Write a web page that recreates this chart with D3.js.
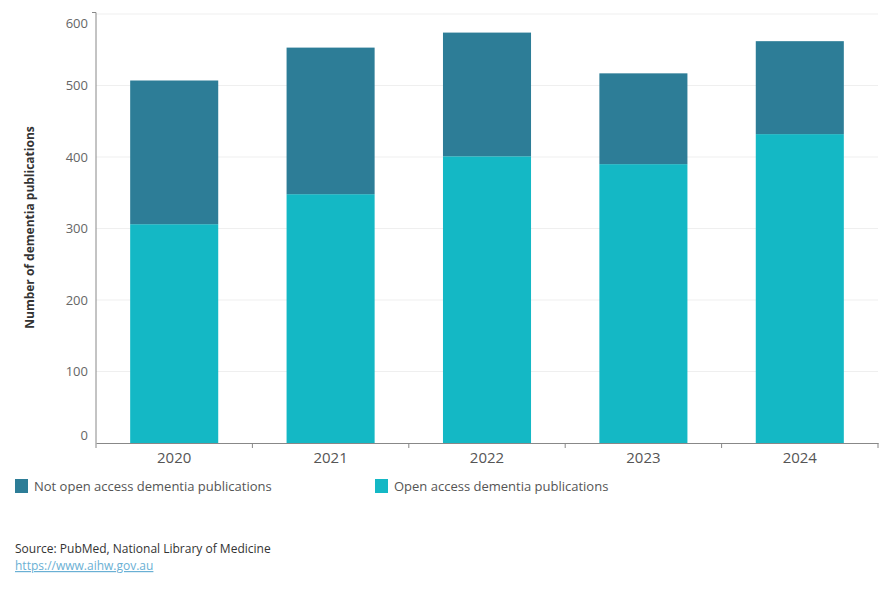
<!DOCTYPE html>
<html>
<head>
<meta charset="utf-8">
<script src="https://cdn.jsdelivr.net/npm/d3@7"></script>
<style>
  body { margin: 0; background: #fff; font-family: "Open Sans", "Noto Sans", sans-serif; }
  svg text { font-family: "Open Sans", "Noto Sans", sans-serif; }
</style>
</head>
<body>
<svg id="chart"></svg>
<script>
// chart data
var years = ["2020", "2021", "2022", "2023", "2024"]
var openAccess = [306, 348, 401, 390, 432]
var notOpenAccess = [201, 205, 173, 127, 130]
var seriesNames = ["Not open access dementia publications", "Open access dementia publications"]
var seriesColors = ["#2d7d97", "#14b8c5"]
var yTicks = [0, 100, 200, 300, 400, 500, 600]

var screen = { width: 890, height: 600 }
var margin = { left: 96, right: 12, top: 14, bottom: 157 }

var width = screen.width - margin.left - margin.right
var height = screen.height - margin.top - margin.bottom

var svg = d3.select("#chart")
  .attr("width", screen.width)
  .attr("height", screen.height)

var rows = years.map(function(y, i){
  return { year: y, open: openAccess[i], notOpen: notOpenAccess[i] }
})

var stack = d3.stack().keys(["open", "notOpen"])
var layers = stack(rows)

var xScale = d3.scaleBand()
  .domain(years)
  .range([0, width])
  .paddingInner(0.437)
  .paddingOuter(0.437 / 2)

var yScale = d3.scaleLinear()
  .domain([0, 600])
  .range([height, 0])

var g = svg.append("g")
  .attr("transform", "translate(" + margin.left + "," + margin.top + ")")

// grid lines
g.selectAll(".grid")
  .data(yTicks.slice(1))
  .enter()
  .append("line")
  .attr("x1", 0)
  .attr("x2", width)
  .attr("y1", function(d){ return yScale(d) })
  .attr("y2", function(d){ return yScale(d) })
  .attr("stroke", "#efefef")
  .attr("stroke-width", 1)

// bars
var colorFor = { open: seriesColors[1], notOpen: seriesColors[0] }
g.selectAll(".layer")
  .data(layers)
  .enter()
  .append("g")
  .attr("fill", function(d){ return colorFor[d.key] })
  .selectAll("rect")
  .data(function(d){ return d })
  .enter()
  .append("rect")
  .attr("x", function(d){ return xScale(d.data.year) })
  .attr("y", function(d){ return yScale(d[1]) })
  .attr("width", xScale.bandwidth())
  .attr("height", function(d){ return yScale(d[0]) - yScale(d[1]) })

// y axis
var yAxis = d3.axisLeft(yScale).tickValues(yTicks).tickSize(0).tickPadding(8)
var yg = g.append("g").call(yAxis)
yg.select(".domain").remove()
yg.selectAll("text")
  .attr("fill", "#666")
  .style("font-size", "13px")
  .attr("dy", function(d){
    if (d === 600) return "1.05em"
    if (d === 0) return "-0.3em"
    return "0.32em"
  })
g.append("line")
  .attr("x1", 0).attr("x2", 0)
  .attr("y1", -1.5).attr("y2", height)
  .attr("stroke", "#888")
g.append("line")
  .attr("x1", -4).attr("x2", 0)
  .attr("y1", -1.5).attr("y2", -1.5)
  .attr("stroke", "#888")

// x axis
var xg = g.append("g")
  .attr("transform", "translate(0," + height + ")")
  .call(d3.axisBottom(xScale).tickSize(0).tickPadding(9))
xg.select(".domain").attr("stroke", "#888")
xg.selectAll("text")
  .attr("fill", "#555")
  .style("font-size", "15px")

var bounds = years.map(function(y){ return xScale(y) - xScale.step() * xScale.paddingInner() / 2 })
bounds.push(width)
g.selectAll(".xtick")
  .data(bounds)
  .enter()
  .append("line")
  .attr("x1", function(d){ return d })
  .attr("x2", function(d){ return d })
  .attr("y1", height)
  .attr("y2", height + 5)
  .attr("stroke", "#888")

// y title
svg.append("text")
  .attr("transform", "translate(34," + (margin.top + height / 2 - 1) + ") rotate(-90)")
  .attr("text-anchor", "middle")
  .attr("fill", "#333")
  .style("font-size", "12px")
  .style("font-weight", "bold")
  .text("Number of dementia publications")

// legend
var legendX = [15, 375]
var legend = svg.selectAll(".legend")
  .data(seriesNames)
  .enter()
  .append("g")
  .attr("transform", function(d, i){ return "translate(" + legendX[i] + ",479)" })
legend.append("rect")
  .attr("width", 13)
  .attr("height", 14)
  .attr("fill", function(d, i){ return seriesColors[i] })
legend.append("text")
  .attr("x", 19)
  .attr("y", 12)
  .attr("fill", "#555")
  .style("font-size", "13px")
  .text(function(d){ return d })

// source
svg.append("text")
  .attr("x", 15)
  .attr("y", 553)
  .attr("fill", "#333")
  .style("font-size", "12px")
  .text("Source: PubMed, National Library of Medicine")
svg.append("text")
  .attr("x", 15)
  .attr("y", 570)
  .attr("fill", "#6ab0d4")
  .style("font-size", "12px")
  .style("text-decoration", "underline")
  .text("https://www.aihw.gov.au")
</script>
</body>
</html>
